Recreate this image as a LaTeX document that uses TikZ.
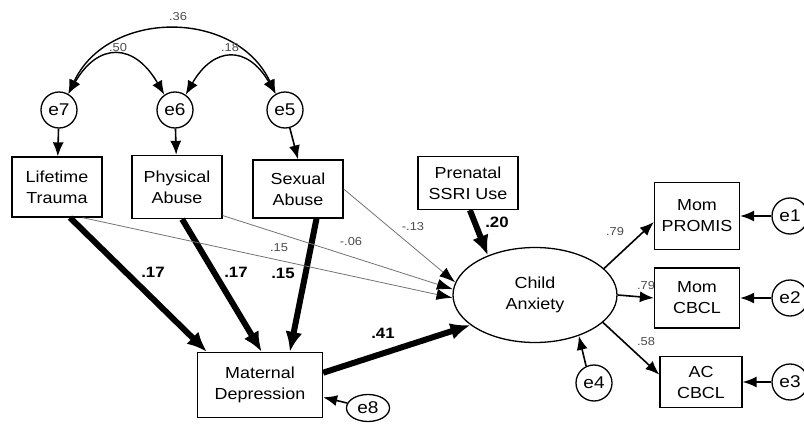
\documentclass[tikz,border=0pt]{standalone}
\usepackage{fontspec}
\setmainfont{Liberation Sans}[FakeStretch=1.12]
\usetikzlibrary{arrows.meta,shapes.geometric}

\begin{document}
\begin{tikzpicture}[x=1pt, y=1pt, >=Latex,
  font=\fontsize{16}{21}\selectfont,
  box/.style={draw, line width=1.3pt, align=center, minimum width=90pt, minimum height=60pt, inner sep=2pt},
  err/.style={draw, circle, line width=1.3pt, minimum size=36pt, inner sep=0pt, font=\fontsize{17}{18}\selectfont},
  lat/.style={draw, ellipse, line width=1.3pt, minimum width=164pt, minimum height=95pt, align=center},
  heavy/.style={line width=6pt, -{Latex[length=20pt,width=17pt]}},
  reg/.style={line width=1.6pt, -{Latex[length=14pt,width=11pt]}},
  weak/.style={line width=0.8pt, draw=black!55, -{Latex[length=16pt,width=11pt,color=black]}},
  cov/.style={line width=1.4pt, {Latex[length=14pt,width=11pt]}-{Latex[length=14pt,width=11pt]}},
  coef/.style={font=\fontsize{11.5}{13}\selectfont, text=black!70},
  bcoef/.style={font=\fontsize{15}{17}\selectfont\bfseries}]
\useasboundingbox (0,0) rectangle (804,-428);
% ================= error terms of the exogenous measures =================
\foreach \n/\x in {7/59,6/175,5/285}{\node[err] (e\n) at (\x,-110) {e\n};}
\draw[cov] (e7.60) to[out=65,in=115,looseness=1.16] (e5.120);
\draw[cov] (e7.60) to[out=60,in=120,looseness=1.6] (e6.125);
\draw[cov] (e6.55) to[out=60,in=120,looseness=1.6] (e5.120);
\node[coef] (k36) at (178,-17) {.36};
\node[coef] (k50) at (118,-48) {.50};
\node[coef] (k18) at (230,-48) {.18};
% ================= observed predictors =================
\node[box] (lt) at (57,-187) {Lifetime\\Trauma};
\node[box, minimum height=63pt] (pa) at (177,-187) {Physical\\Abuse};
\node[box, minimum height=58pt] (sa) at (298,-189) {Sexual\\Abuse};
\node[box, minimum width=100pt, minimum height=53pt] (ps) at (468,-183) {Prenatal\\SSRI Use};
\draw[reg] (e7) -- (lt);
\draw[reg] (e6) -- (pa);
\draw[reg] (e5.-75) -- (sa.north);
% ================= mediator and latent outcome =================
\node[box, minimum width=125pt, minimum height=65pt] (md) at (260,-385) {Maternal\\Depression};
\node[err, ellipse, minimum width=43pt, minimum height=27pt] (e8) at (368,-408) {e8};
\node[lat] (ca) at (535,-295) {Child\\Anxiety};
\node[err] (e4) at (594,-383) {e4};
\draw[reg] (e8) -- (md.-11);
\draw[reg] (e4.115) -- (ca.-43);
% thick paths
\draw[heavy] (lt.-67) -- (md.148);
\draw[heavy] (pa.-81) -- (md.87);
\draw[heavy] (sa.-58) -- (md.48);
\draw[heavy] (ps.-86) -- (ca.140);
\draw[heavy] (md.11) -- (ca.205);
\node[bcoef] (b1) at (153,-272) {.17};
\node[bcoef] (b2) at (236,-272) {.17};
\node[bcoef] (b3) at (283,-273) {.15};
\node[bcoef] (b4) at (497,-222) {.20};
\node[bcoef] (b5) at (383,-333) {.41};
% thin paths
\draw[weak] (lt.-50) -- (ca.182);
\draw[weak] (pa.-32) -- (ca.176);
\draw[weak] (sa.east) -- (ca.171);
\node[coef] (w1) at (279,-248) {.15};
\node[coef] (w2) at (351,-242) {-.06};
\node[coef] (w3) at (413,-227) {-.13};
% ================= indicators =================
\node[box, minimum width=85pt, minimum height=67pt] (mp) at (697,-216) {Mom\\PROMIS};
\node[box, minimum width=85pt] (mc) at (697,-298) {Mom\\CBCL};
\node[box, minimum width=82pt, minimum height=51pt] (ac) at (701,-382) {AC\\CBCL};
\foreach \n/\y in {1/216,2/298,3/382}{\node[err] (e\n) at (790,-\y) {e\n};}
\foreach \n/\b in {1/mp,2/mc,3/ac}{\draw[reg] (e\n) -- (\b);}
\draw[reg] (ca.21) -- (mp.188);
\draw[reg] (ca.east) -- (mc.west);
\draw[reg] (ca.-22) -- (ac.170);
\node[coef] (m1) at (615,-232) {.79};
\node[coef] (m2) at (646,-286) {.79};
\node[coef] (m3) at (646,-342) {.58};
\end{tikzpicture}
\end{document}
